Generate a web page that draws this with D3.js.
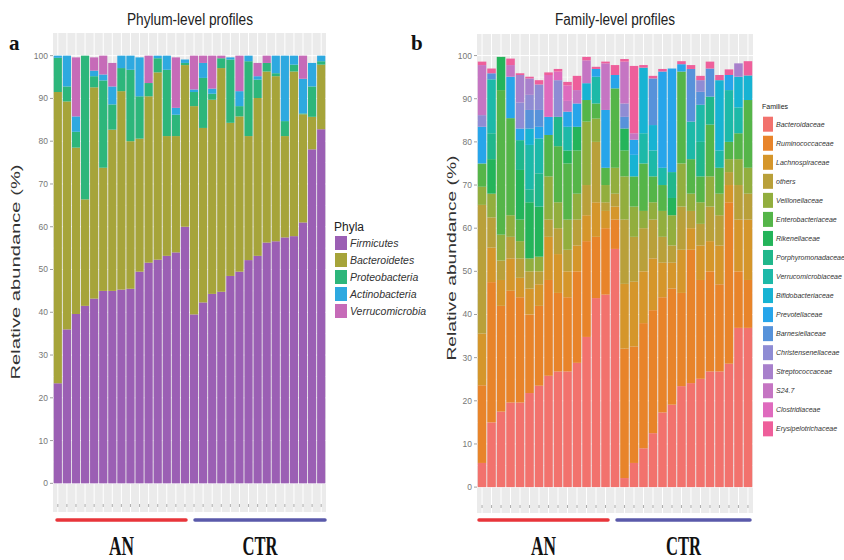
<!DOCTYPE html>
<html>
<head>
<meta charset="utf-8">
<script src="https://cdn.jsdelivr.net/npm/d3@7"></script>
<style>
  body { margin: 0; background: #fff; }
  text { font-family: "Liberation Sans", Arial, sans-serif; }
</style>
</head>
<body>
<script>
// ---------- data: phylum level (panel a) ----------
var samplesA = d3.range(1, 16).map(function (i) { return "AN" + i; })
    .concat(d3.range(1, 16).map(function (i) { return "CTR" + i; }));

var phyla = ["Firmicutes", "Bacteroidetes", "Proteobacteria", "Actinobacteria", "Verrucomicrobia"];

var firmicutes = [23.4, 36.0, 39.6, 41.5, 43.2, 45.0, 45.0, 45.3, 45.5, 49.5, 51.6, 52.3, 53.2, 54.0, 60.0,
    39.5, 42.3, 44.3, 44.8, 48.5, 49.5, 52.2, 53.2, 56.3, 56.6, 57.5, 57.8, 61.0, 78.1, 82.8];
var bacteroidetes = [68.1, 53.3, 38.9, 24.9, 49.4, 28.8, 37.7, 46.4, 34.5, 31.1, 38.9, 43.8, 28.0, 27.2, 37.8,
    48.7, 40.8, 45.4, 52.3, 35.8, 36.3, 29.0, 36.9, 40.0, 38.6, 23.7, 38.5, 25.3, 7.6, 15.1];
var proteobacteria = [8.0, 3.5, 3.7, 33.6, 2.6, 20.4, 5.9, 5.4, 16.7, 9.9, 3.1, 3.3, 15.5, 5.0, 0.5,
    3.3, 11.7, 1.4, 2.3, 14.8, 2.4, 17.5, 4.3, 2.0, 0.7, 3.5, 1.6, 0.2, 7.1, 0.8];
var actinobacteria = [0.5, 7.2, 3.6, 0, 1.3, 1.4, 4.2, 2.9, 3.3, 9.1, 0, 0.6, 3.3, 1.6, 0.8,
    0.6, 3.5, 1.2, 0, 0.5, 3.5, 1.3, 0.8, 0, 4.1, 15.3, 2.1, 8.1, 5.5, 1.3];
var verrucomicrobia = [0, 0, 13.8, 0, 3.1, 4.4, 5.5, 0, 0, 0, 6.4, 0, 0, 11.8, 0,
    7.9, 1.7, 7.7, 0.6, 0, 8.3, 0, 3.1, 1.7, 0, 0, 0, 5.4, 0, 0];

// ---------- data: family level (panel b) ----------
var samplesB = d3.range(1, 16).map(function (i) { return "AN" + i; })
    .concat(d3.range(1, 15).map(function (i) { return "CTR" + i; }));

var families = ["Bacteroidaceae", "Ruminococcaceae", "Lachnospiraceae", "others", "Veillonellaceae",
    "Enterobacteriaceae", "Rikenellaceae", "Porphyromonadaceae", "Verrucomicrobiaceae", "Bifidobacteriaceae",
    "Prevotellaceae", "Barnesiellaceae", "Christensenellaceae", "Streptococcaceae", "S24.7",
    "Clostridiaceae", "Erysipelotrichaceae"];

var bacteroidaceae = [5.6, 15, 17.5, 19.6, 19.6, 21.8, 23.5, 25.8, 26.8, 26.8, 28.8, 34.8, 43.8, 44.6, 55.2,
    2.1, 5.6, 9, 12.5, 17.3, 19.1, 23.4, 24.1, 25.1, 26.8, 26.8, 28.6, 36.9, 36.9];
var ruminococcaceae = [18, 32.5, 24.5, 25.9, 24.4, 18.2, 18.5, 22.2, 18.2, 17.2, 21.2, 22.2, 14.2, 15.4, 6.8,
    30, 27, 29, 28.5, 26.7, 26.9, 21.6, 30.9, 22.9, 23.2, 20.2, 37.4, 13.1, 11.1];
var lachnospiraceae = [12, 8, 6, 7.5, 4.5, 6, 5, 10, 9, 6, 6, 6, 8, 4, 3,
    15, 15, 12, 12, 8, 6, 10, 5, 8, 7, 9, 4, 12, 14];
var others = [29.8, 7, 4.5, 5, 4.5, 4, 3, 4, 6, 5, 6, 7, 14, 2, 3,
    14.9, 10.4, 10, 9, 6, 4, 10, 4, 5, 8, 7, 3, 8, 6];
var veillonellaceae = [4.2, 5.5, 6, 5, 4, 3, 3.4, 10, 6, 7, 6, 14.7, 5.4, 4, 6,
    10, 7, 4, 4, 6, 7, 10, 4, 5, 7, 5, 3, 6, 6];
var enterobacteriaceae = [5.4, 0, 33.5, 22.5, 5, 0, 0, 9.6, 13, 13, 10, 5, 3.5, 4, 18.4,
    6, 7, 11, 6, 6, 0, 21.3, 8, 6, 12, 6, 4, 6, 15.7];
var rikenellaceae = [0, 8, 7.7, 0, 11.5, 13, 11.6, 0, 0, 3, 5.5, 0, 0, 0, 0,
    5.1, 0, 0, 0, 0, 4, 0, 0, 0, 0, 0, 0, 0, 0];
var porphyromonadaceae = [0, 6, 0, 0, 6.9, 3, 7.7, 0, 6.8, 0, 0, 0, 0, 0, 0,
    0, 0, 0, 0, 0, 6, 0, 0, 8, 6.5, 0, 0, 0, 0];
var verrucomicrobiaceae = [0, 12.5, 0, 0, 0, 10.3, 8.1, 0, 0, 5.5, 0, 0, 6.2, 0, 0,
    0, 0, 7, 6, 4, 0, 0, 8.7, 8.6, 0, 4, 12, 6, 0];
var bifidobacteriaceae = [0, 0, 0, 0, 0, 3.8, 0, 0, 0, 0, 0, 3.9, 0, 0, 0,
    0, 5, 15.2, 5.9, 0, 0, 0, 0, 0, 0, 16.3, 0, 7.1, 5.7];
var prevotellaceae = [8.5, 0, 0, 9.6, 2.7, 0, 2.7, 4.2, 0, 3.5, 5.4, 0, 1.8, 13.4, 3.1,
    0, 3.5, 0, 0, 22.3, 24, 1.7, 0, 0, 0, 0, 3.5, 0, 0];
var barnesiellaceae = [0, 1.4, 0, 0, 0, 4.3, 3.9, 0, 0, 0, 0, 0, 0, 0, 0,
    2.7, 0, 0, 10.8, 0, 0, 0, 12.2, 3, 6.5, 0, 0, 0, 0];
var christensenellaceae = [2.7, 0, 0, 0, 6, 3.5, 5.9, 0, 8.5, 0, 0, 0, 0, 0, 0,
    3.1, 0, 0, 0, 0, 0, 0, 0, 2.7, 0, 0, 0, 0, 0];
var streptococcaceae = [0, 0, 0, 0, 6.4, 3.8, 0, 0, 0, 0, 0, 0, 0, 0, 0,
    0, 0, 0, 0, 0, 0, 0, 0, 0, 0, 0, 0, 3.1, 0];
var s247 = [11.6, 0, 0, 2.7, 0, 0, 0, 0, 0, 2.5, 3.1, 5.3, 0, 10.8, 0,
    9.7, 1.5, 0, 0, 0, 0, 0, 0, 0, 0, 0, 0, 0, 0];
var clostridiaceae = [0, 0, 0, 0, 0, 0, 0, 9.7, 2.0, 3.6, 0, 0, 0, 0, 0,
    0, 0, 0, 0, 0, 0, 0, 0, 0, 0, 0, 0, 0, 0];
var erysipelotrichaceae = [0.8, 1.1, 0, 1.5, 0.4, 0.4, 1.0, 0.6, 0.6, 0.8, 3.3, 0.8, 0.5, 0.4, 2.3,
    0.6, 15.6, 0.6, 0.6, 0.6, 0, 0.7, 0.9, 1, 1.6, 1.2, 1.3, 0, 3.3];

var yTicks = [0, 10, 20, 30, 40, 50, 60, 70, 80, 90, 100];

// colours
var phylaColors = ["#9b5fb4", "#a6a43a", "#2db67b", "#2ea9e0", "#c66bb8"];
var familyColors = ["#f2726d", "#e8842a", "#d5962b", "#b9a03a", "#92ae3e", "#55b549", "#24b45a",
    "#20b78b", "#1db9a8", "#17b3d3", "#27a5ea", "#5792da", "#8f8cd4", "#a880cc", "#c575c3",
    "#df6bbe", "#ee5f9b"];

var serif = "'Liberation Serif', 'Times New Roman', serif";

// ---------- svg ----------
var width = 844, height = 560;
var svg = d3.select("body").append("svg")
    .attr("width", width)
    .attr("height", height);

// turn per-series arrays into rows for d3.stack
function makeRows(samples, keys, series) {
    return samples.map(function (s, i) {
        var row = { sample: s };
        keys.forEach(function (k, j) { row[k] = series[j][i]; });
        return row;
    });
}

function drawPanel(cfg) {
    var g = svg.append("g");

    var x = d3.scaleBand()
        .domain(cfg.samples)
        .range([cfg.x0, cfg.x1])
        .paddingInner(0.1)
        .paddingOuter(0.08);

    var y = d3.scaleLinear()
        .domain([cfg.yMin, cfg.yMax])
        .range([cfg.yBottom, cfg.yTop]);

    // grey panel
    g.append("rect")
        .attr("x", cfg.x0).attr("y", cfg.yTop)
        .attr("width", cfg.x1 - cfg.x0).attr("height", cfg.yBottom - cfg.yTop)
        .attr("fill", "#ebebeb");

    // minor + major grid
    g.selectAll(".minor").data(yTicks.slice(0, -1).map(function (t) { return t + 5; }))
        .enter().append("line")
        .attr("x1", cfg.x0).attr("x2", cfg.x1)
        .attr("y1", function (d) { return y(d); }).attr("y2", function (d) { return y(d); })
        .attr("stroke", "#fff").attr("stroke-width", 0.5);
    g.selectAll(".major").data(yTicks)
        .enter().append("line")
        .attr("x1", cfg.x0).attr("x2", cfg.x1)
        .attr("y1", function (d) { return y(d); }).attr("y2", function (d) { return y(d); })
        .attr("stroke", "#fff").attr("stroke-width", 1);
    g.selectAll(".vgrid").data(cfg.samples)
        .enter().append("line")
        .attr("x1", function (d) { return x(d) + x.bandwidth() / 2; })
        .attr("x2", function (d) { return x(d) + x.bandwidth() / 2; })
        .attr("y1", cfg.yTop).attr("y2", cfg.yBottom)
        .attr("stroke", "#fff").attr("stroke-width", 1);

    // stacked bars
    var stacked = d3.stack().keys(cfg.keys)(makeRows(cfg.samples, cfg.keys, cfg.series));
    g.selectAll(".layer").data(stacked)
        .enter().append("g")
        .attr("fill", function (d, i) { return cfg.colors[i]; })
        .selectAll("rect")
        .data(function (d) { return d; })
        .enter().append("rect")
        .attr("x", function (d) { return x(d.data.sample); })
        .attr("y", function (d) { return y(d[1]); })
        .attr("width", x.bandwidth())
        .attr("height", function (d) { return Math.max(0, y(d[0]) - y(d[1])); });

    // y axis ticks and labels
    g.selectAll(".tick").data(yTicks)
        .enter().append("line")
        .attr("x1", cfg.x0 - 3).attr("x2", cfg.x0)
        .attr("y1", function (d) { return y(d); }).attr("y2", function (d) { return y(d); })
        .attr("stroke", "#888").attr("stroke-width", 0.8);
    g.selectAll(".tlab").data(yTicks)
        .enter().append("text")
        .attr("x", cfg.x0 - 5)
        .attr("y", function (d) { return y(d); })
        .attr("dy", "0.35em")
        .attr("text-anchor", "end")
        .attr("font-size", "8.5px")
        .attr("fill", "#777")
        .text(function (d) { return d; });

    // tiny x ticks under the panel
    g.selectAll(".xtick").data(cfg.samples)
        .enter().append("line")
        .attr("x1", function (d) { return x(d) + x.bandwidth() / 2; })
        .attr("x2", function (d) { return x(d) + x.bandwidth() / 2; })
        .attr("y1", cfg.yBottom - 8).attr("y2", cfg.yBottom - 5)
        .attr("stroke", "#999").attr("stroke-width", 0.8);

    // y axis title
    g.append("text")
        .attr("transform", "translate(" + cfg.yTitleX + "," + cfg.yTitleY + ") rotate(-90)")
        .attr("text-anchor", "middle")
        .attr("font-size", cfg.yTitleSize + "px")
        .attr("fill", "#333")
        .attr("textLength", cfg.yTitleLen)
        .attr("lengthAdjust", "spacingAndGlyphs")
        .text("Relative abundance (%)");

    // title
    g.append("text")
        .attr("x", cfg.titleX).attr("y", 25)
        .attr("text-anchor", "middle")
        .attr("font-size", "16px")
        .attr("fill", "#222")
        .attr("textLength", cfg.titleLen)
        .attr("lengthAdjust", "spacingAndGlyphs")
        .text(cfg.title);

    // panel letter
    g.append("text")
        .attr("x", cfg.letterX).attr("y", 50)
        .style("font-family", serif)
        .attr("font-weight", "bold")
        .attr("font-size", "21px")
        .attr("fill", "#111")
        .text(cfg.letter);

    // group bars and labels
    var groups = [
        { name: "AN", color: "#e8353a", a: cfg.redX[0], b: cfg.redX[1], len: 25 },
        { name: "CTR", color: "#5a59aa", a: cfg.blueX[0], b: cfg.blueX[1], len: 35 }
    ];
    groups.forEach(function (gr) {
        g.append("line")
            .attr("x1", gr.a).attr("x2", gr.b)
            .attr("y1", 520).attr("y2", 520)
            .attr("stroke", gr.color).attr("stroke-width", 3.5)
            .attr("stroke-linecap", "round");
        g.append("text")
            .attr("x", (gr.a + gr.b) / 2).attr("y", 555)
            .attr("text-anchor", "middle")
            .style("font-family", serif)
            .attr("font-weight", "bold")
            .attr("font-size", "27px")
            .attr("fill", "#111")
            .attr("textLength", gr.len)
            .attr("lengthAdjust", "spacingAndGlyphs")
            .text(gr.name);
    });

    // legend
    var lg = g.append("g");
    lg.append("text")
        .attr("x", cfg.legend.x).attr("y", cfg.legend.titleY)
        .attr("font-size", cfg.legend.titleSize + "px")
        .attr("fill", "#222")
        .text(cfg.legend.title);
    cfg.keys.forEach(function (k, i) {
        var cy = cfg.legend.y0 + i * cfg.legend.step;
        lg.append("rect")
            .attr("x", cfg.legend.x + 1).attr("y", cy - cfg.legend.keyH / 2)
            .attr("width", cfg.legend.keyW).attr("height", cfg.legend.keyH)
            .attr("fill", cfg.colors[i]);
        lg.append("text")
            .attr("x", cfg.legend.x + cfg.legend.keyW + 4).attr("y", cy)
            .attr("dy", "0.35em")
            .attr("font-size", cfg.legend.labelSize + "px")
            .attr("font-style", "italic")
            .attr("fill", "#333")
            .text(k);
    });
}

drawPanel({
    samples: samplesA,
    keys: phyla,
    series: [firmicutes, bacteroidetes, proteobacteria, actinobacteria, verrucomicrobia],
    colors: phylaColors,
    x0: 53, x1: 326, yTop: 33, yBottom: 512, yMin: -6.7, yMax: 105.3,
    yTitleX: 20, yTitleY: 272, yTitleSize: 13, yTitleLen: 215,
    title: "Phylum-level profiles", titleX: 190, titleLen: 126,
    letter: "a", letterX: 9,
    redX: [57, 186], blueX: [195, 325],
    legend: { x: 334, title: "Phyla", titleY: 231, titleSize: 12, y0: 243, step: 17,
        keyW: 12, keyH: 14, labelSize: 10.5 }
});

drawPanel({
    samples: samplesB,
    keys: families,
    series: [bacteroidaceae, ruminococcaceae, lachnospiraceae, others, veillonellaceae,
        enterobacteriaceae, rikenellaceae, porphyromonadaceae, verrucomicrobiaceae, bifidobacteriaceae,
        prevotellaceae, barnesiellaceae, christensenellaceae, streptococcaceae, s247,
        clostridiaceae, erysipelotrichaceae],
    colors: familyColors,
    x0: 477, x1: 753, yTop: 34, yBottom: 513, yMin: -6.0, yMax: 105.0,
    yTitleX: 456, yTitleY: 258, yTitleSize: 12, yTitleLen: 205,
    title: "Family-level profiles", titleX: 615, titleLen: 120,
    letter: "b", letterX: 411,
    redX: [479, 608], blueX: [617, 750],
    legend: { x: 762, title: "Families", titleY: 109, titleSize: 7, y0: 124.2, step: 19.04,
        keyW: 10, keyH: 15, labelSize: 7 }
});
</script>
</body>
</html>
